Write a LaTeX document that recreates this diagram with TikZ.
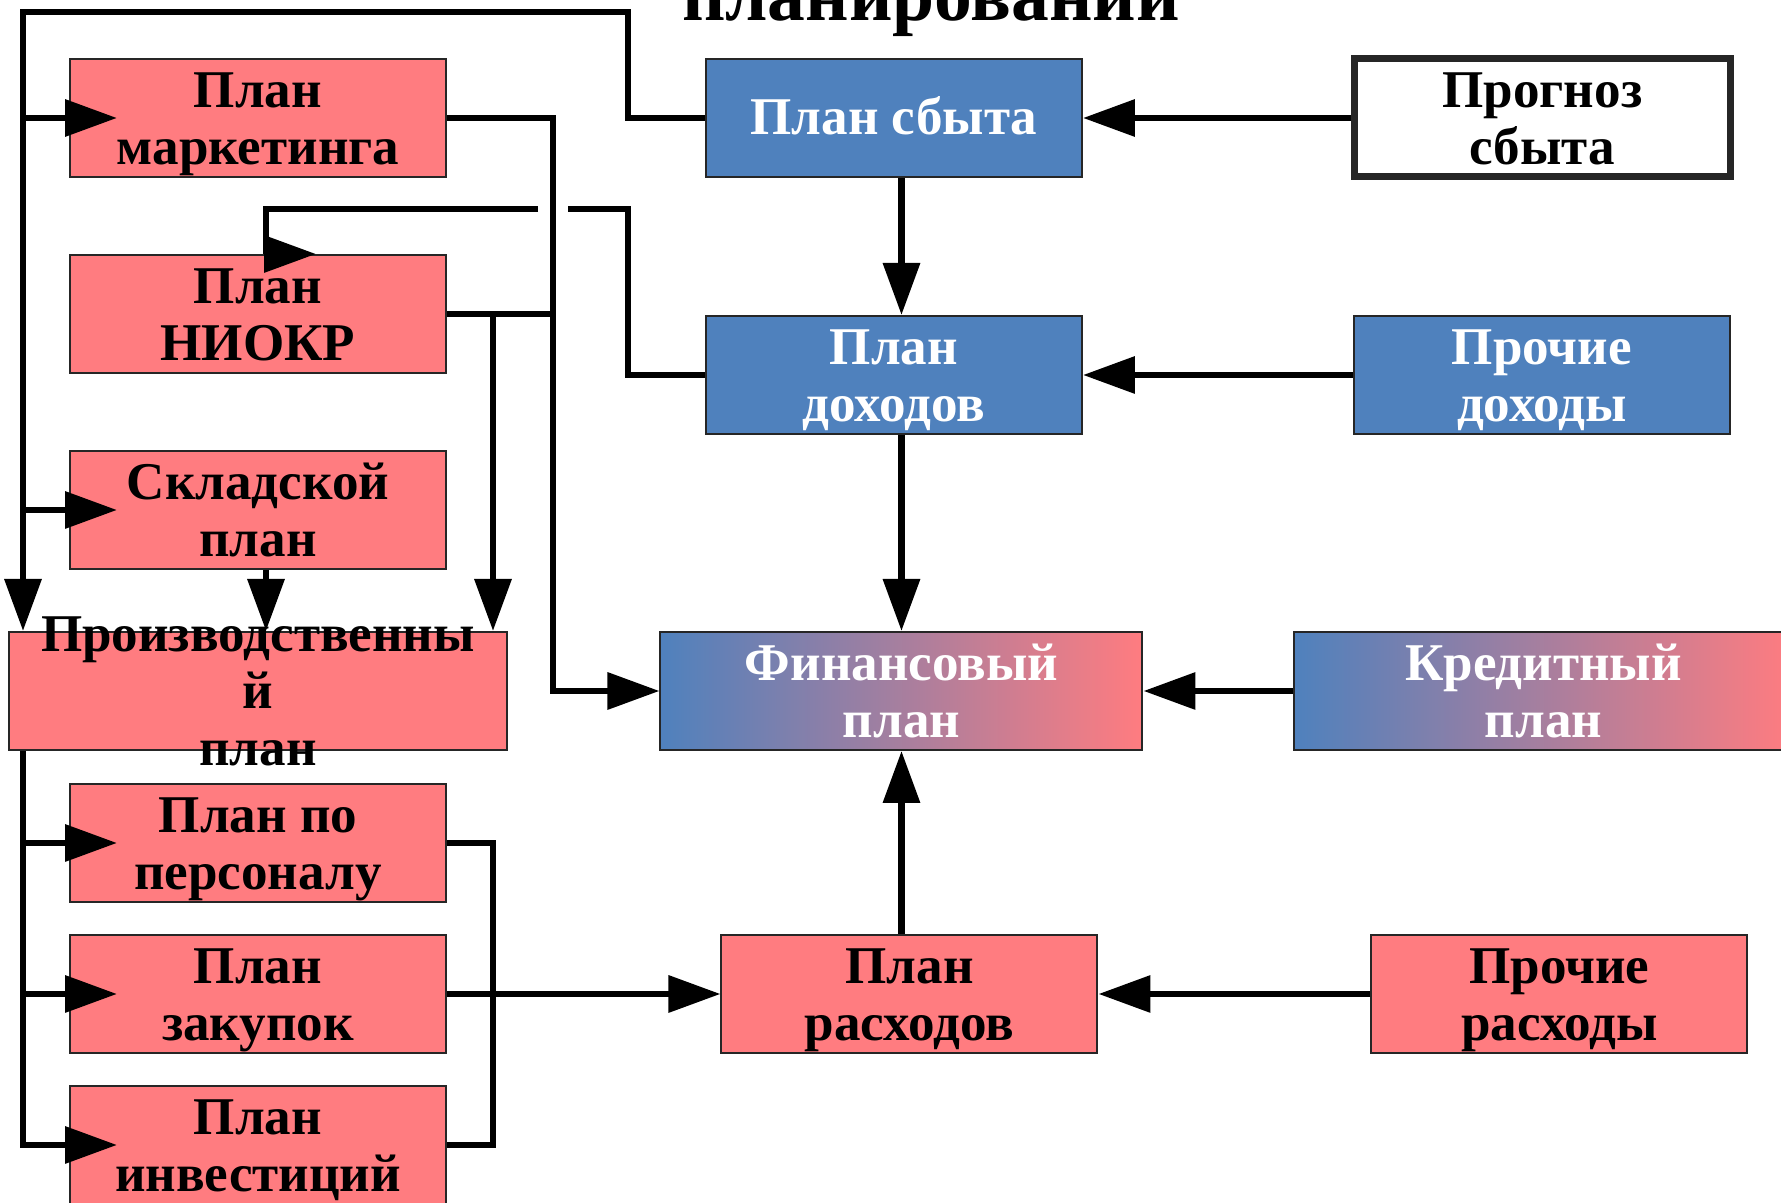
\documentclass[tikz,border=0pt]{standalone}
\usepackage{fontspec}
\setmainfont{Liberation Serif}
\usetikzlibrary{positioning,arrows.meta}
\definecolor{planred}{HTML}{FF7C80}
\definecolor{planblue}{HTML}{4F81BD}
\tikzset{
  plantext/.style={align=center, font=\bfseries\fontsize{15.1}{16.2}\selectfont},
  plan/.style={plantext, draw=black!85, line width=0.2mm, minimum width=37.6mm, minimum height=11.8mm,
    inner sep=0.2mm, text height=29pt, text depth=2.8pt},
  redplan/.style={plan, fill=planred},
  blueplan/.style={plan, fill=planblue, text=white},
  mixplan/.style={plan, left color=planblue, right color=planred, text=white, minimum width=48.2mm},
  link/.style={line width=0.65mm},
  arr/.style={link, -{Triangle[length=5.2mm,width=3.6mm]}},
}
\begin{document}
\begin{tikzpicture}[x=0.1mm,y=-0.1mm]
    \useasboundingbox (0,0) rectangle (1781,1203);
    \node[anchor=base, font=\bfseries\fontsize{21.5}{24}\selectfont] (title) at (931,21) {планировании};

    \node[redplan] (mark) at (258,118) {План\\маркетинга};
    \node[redplan, below=7.6mm of mark] (niokr) {План\\НИОКР};
    \node[redplan, below=7.6mm of niokr] (sklad) {Складской\\план};
    \node[redplan, minimum width=49.8mm, below=6.1mm of sklad,
          label={[plantext]center:Производственны\\й\\план}] (prod) {};
    \node[redplan, below=3.2mm of prod] (pers) {План по\\персоналу};
    \node[redplan, below=3.1mm of pers] (zak) {План\\закупок};
    \node[redplan, below=3.1mm of zak] (inv) {План\\инвестиций};

    \node[blueplan, text height=9.6pt, text depth=0pt, right=25.8mm of mark] (sbyt) {План сбыта};
    \node[plan, line width=0.7mm, right=26.8mm of sbyt] (prog) {Прогноз\\сбыта};
    \node[blueplan, below=13.7mm of sbyt] (doh) {План\\доходов};
    \node[blueplan, right=27mm of doh] (prdoh) {Прочие\\доходы};
    \node[mixplan, below=19.6mm of doh, xshift=0.75mm] (fin) {Финансовый\\план};
    \node[mixplan, minimum width=49.8mm, right=15mm of fin] (kred) {Кредитный\\план};
    \node[redplan, below=18.3mm of fin, xshift=0.8mm] (rash) {План\\расходов};
    \node[redplan, right=27.2mm of rash] (prrash) {Прочие\\расходы};

    \coordinate (ltop) at (23,12);
    \coordinate (rtop) at (628,12);
    \coordinate (hop) at (628,209);

    \draw[arr] (sbyt.west) -| (rtop) -- (ltop) -- (ltop |- prod.north);
    \foreach \p in {mark,sklad,pers,zak}
      \draw[arr] (ltop |- \p.west) -- ([xshift=4.8mm]\p.west);
    \draw[arr] (prod.south -| ltop) |- ([xshift=4.8mm]inv.west);
    \draw[arr] (mark.east) -- ++(10.6mm,0) |- (fin.west);
    \draw[link] (niokr.east) -- ++(10.6mm,0);
    \draw[arr] ([xshift=4.6mm]niokr.east) -- ([xshift=4.6mm]niokr.east |- prod.north);
    \draw[link] (doh.west) -| (hop) -- ++(-6mm,0);
    \draw[arr] ([xshift=-9mm]hop) -| ([xshift=0.8mm]niokr.north) -- ([xshift=5.8mm]niokr.north);
    \draw[arr] ([xshift=0.8mm]sklad.south) -- ([xshift=0.8mm]prod.north);
    \draw[arr] (sbyt.south -| fin.north) -- (doh.north -| fin.north);
    \draw[arr] (doh.south -| fin.north) -- (fin.north);
    \draw[arr] (rash.north -| fin.south) -- (fin.south);
    \draw[arr] (prog.west) -- (sbyt.east);
    \draw[arr] (prdoh.west) -- (doh.east);
    \draw[arr] (kred.west) -- (fin.east);
    \draw[arr] (prrash.west) -- (rash.east);
    \draw[link] (pers.east) -- ++(4.6mm,0) |- (inv.east);
    \draw[arr] (zak.east) -- (zak.east -| rash.west);
\end{tikzpicture}
\end{document}
